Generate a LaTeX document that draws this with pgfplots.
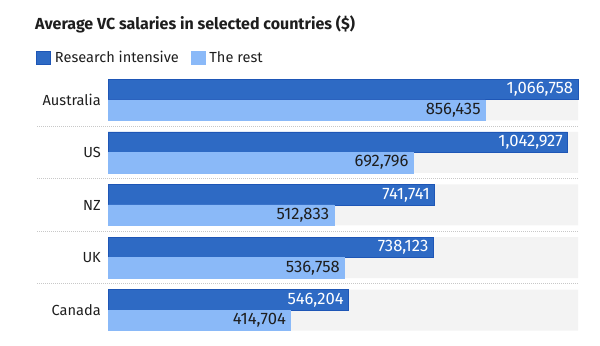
\documentclass[border=0pt]{standalone}
\usepackage{pgfplots}
\pgfplotsset{compat=1.18}
\usepackage{fontspec}
\setmainfont{Fira Sans}
\definecolor{dark}{RGB}{46,106,196}
\definecolor{darkedge}{RGB}{30,86,182}
\definecolor{light}{RGB}{138,185,248}
\definecolor{bg}{RGB}{243,243,243}
\definecolor{sepc}{RGB}{200,200,200}
\definecolor{txt}{RGB}{30,30,30}
\begin{document}
\begin{tikzpicture}
\useasboundingbox (0bp,0bp) rectangle (600bp,346bp);
\node[anchor=base west, font=\bfseries\fontsize{16bp}{19bp}\selectfont, text=txt, inner sep=0pt] at (35bp,316.5bp) {Average VC salaries in selected countries (\$)};
\begin{axis}[
  at={(108bp,9.5bp)}, anchor=south west,
  scale only axis, width=470bp, height=263bp,
  xmin=0, xmax=1066758, ymin=-0.5, ymax=4.5,
  axis line style={draw=none}, xtick=\empty,
  ytick={0,1,2,3,4}, yticklabels={Canada,UK,NZ,US,Australia},
  major tick length=0pt,
  yticklabel style={font=\fontsize{14.6bp}{17bp}\selectfont, text=txt, inner sep=0pt, xshift=-7bp},
  clip=false,
  legend columns=2,
  legend cell align=left,
  legend image code/.code={\draw[#1] (0bp,-6.5bp) rectangle (14bp,6.5bp);},
  legend style={at={(-0.1532,1.059)}, anchor=west, draw=none, fill=none, inner sep=0pt,
    font=\fontsize{14.6bp}{17bp}\selectfont, text=txt,
    nodes={inner sep=0pt},
    /tikz/every odd column/.append style={column sep=4bp},
    /tikz/every even column/.append style={column sep=12bp}},
]
\addplot[xbar, bar width=41bp, bar shift=0pt, fill=bg, draw=none, forget plot]
  coordinates {(1066758,0) (1066758,1) (1066758,2) (1066758,3) (1066758,4)};
\addplot[xbar, bar width=20.5bp, bar shift=10.25bp, fill=dark, draw=darkedge, line width=0.75bp,
  point meta=explicit symbolic, nodes near coords,
  every node near coord/.append style={anchor=east, text=white, font=\fontsize{16.6bp}{19bp}\selectfont, inner xsep=4.5bp, inner ysep=0pt, yshift=10.25bp}]
  coordinates {(1066758,4) [1,066,758] (1042927,3) [1,042,927] (741741,2) [741,741] (738123,1) [738,123] (546204,0) [546,204]};
\addplot[xbar, bar width=20.5bp, bar shift=-10.25bp, fill=light, draw=light, line width=0.5bp,
  point meta=explicit symbolic, nodes near coords,
  every node near coord/.append style={anchor=east, text=txt, font=\fontsize{16.6bp}{19bp}\selectfont, inner xsep=4.5bp, inner ysep=0pt, yshift=-10.25bp}]
  coordinates {(856435,4) [856,435] (692796,3) [692,796] (512833,2) [512,833] (536758,1) [536,758] (414704,0) [414,704]};
\legend{Research intensive, The rest}
\foreach \yy in {0.5,1.5,2.5,3.5} {
  \edef\tmp{\noexpand\draw[sepc, line width=0.8bp, dash pattern=on 0.8bp off 1.2bp] ([xshift=-71bp]axis cs:0,\yy) -- (axis cs:1066758,\yy);}
  \tmp
}
\end{axis}
\end{tikzpicture}
\end{document}
